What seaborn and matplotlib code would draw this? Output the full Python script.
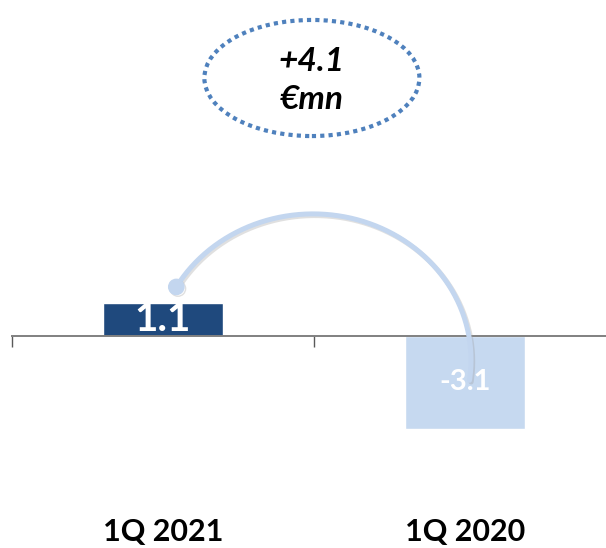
import numpy as np
import pandas as pd
import matplotlib
matplotlib.use("Agg")
import matplotlib.pyplot as plt
import matplotlib.patheffects as pe
from matplotlib.patches import Ellipse
import seaborn as sns

# Quarterly result, €mn
periods = ["1Q 2021", "1Q 2020"]
results = [1.1, -3.1]
bar_colors = ["#1F497D", "#C6D9F0"]
change_label = "+4.1\n€mn"

sns.set_theme(style="white")
plt.rcParams["font.family"] = ["Lato", "DejaVu Sans"]

fig = plt.figure(figsize=(6.06, 5.48), dpi=100)
ax = fig.add_axes([12 / 606, 78 / 548, 604 / 606, 460 / 548])

df = pd.DataFrame({"period": periods, "result": results})
sns.barplot(data=df, x="period", y="result", hue="period", palette=bar_colors,
            width=0.4, saturation=1, legend=False, ax=ax)

# value labels inside the bars
label_sizes = [29, 21]
for cont, val, fs in zip(ax.containers, results, label_sizes):
    ax.bar_label(cont, labels=[f"{val:.1f}"], label_type="center",
                 color="white", fontweight="bold", fontsize=fs)

ax.set_xlim(-0.5, 1.5)
ax.set_ylim(-4.467, 10.867)
ax.set_xlabel("")
ax.set_ylabel("")
ax.set_yticks([])
for side in ["top", "left", "right"]:
    ax.spines[side].set_visible(False)
ax.spines["bottom"].set_position(("data", 0))
ax.spines["bottom"].set_color("#808080")
ax.spines["bottom"].set_linewidth(1.4)

ax.tick_params(axis="x", which="major", bottom=True, length=0, pad=131,
               labelsize=22, labelcolor="black")
for lbl in ax.get_xticklabels():
    lbl.set_fontweight("bold")
ax.set_xticks([-0.5, 0.5, 1.5], minor=True)
ax.tick_params(axis="x", which="minor", bottom=True, length=8, width=1,
               color="#595959", direction="out")

# curved connector from the current quarter to the prior-year quarter
cx, cy, rx, ry = 0.497, -0.8, 0.523, 4.87
t = np.linspace(np.deg2rad(150), np.deg2rad(-8), 200)
arc_x = cx + rx * np.cos(t)
arc_y = cy + ry * np.sin(t)
shadow = [pe.SimpleLineShadow(offset=(1.2, -1.2), shadow_color="#9A9A9A", alpha=0.3),
          pe.Normal()]
ax.plot(arc_x, arc_y, color="#C3D6EF", lw=3.6, solid_capstyle="round",
        path_effects=shadow, zorder=4)
ax.plot(arc_x[0], arc_y[0], "o", ms=11, color="#C3D6EF", zorder=5,
        path_effects=shadow)

# bubble with the year-on-year change
bubble = Ellipse((0.493, 8.6), width=0.712, height=3.87, fill=False,
                 edgecolor="#4F81BD", lw=3.0, linestyle=(0, (1, 1)), zorder=5)
ax.add_patch(bubble)
ax.text(0.493, 8.52, change_label, ha="center", va="center", fontsize=24,
        fontweight="bold", fontstyle="italic", color="black", linespacing=1.4,
        zorder=6)

fig.savefig("out.png", dpi=100, facecolor="white")
